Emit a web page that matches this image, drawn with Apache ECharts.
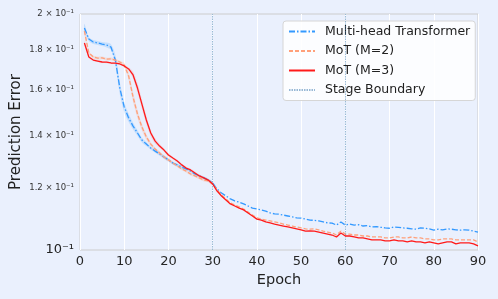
<!DOCTYPE html>
<html>
<head>
<meta charset="utf-8">
<script src="https://cdn.jsdelivr.net/npm/echarts@6/dist/echarts.min.js"></script>
<style>
  html, body { margin: 0; padding: 0; background: #eaf0fd; }
  #chart { width: 498px; height: 299px; }
</style>
</head>
<body>
<div id="chart"></div>
<script>
// epochs 1..90
const epochs = Array.from({ length: 90 }, (_, i) => i + 1)

// Multi-head Transformer
const mhtValues = [
  0.1920, 0.1858, 0.1842, 0.1837, 0.1831, 0.1826, 0.1815, 0.1747, 0.1609, 0.1522,
  0.1474, 0.1439, 0.1410, 0.1381, 0.1365, 0.1349, 0.1337, 0.1326, 0.1314, 0.1303,
  0.1291, 0.1284, 0.1276, 0.1269, 0.1261, 0.1250, 0.1243, 0.1236, 0.1228, 0.1218,
  0.1196, 0.1182, 0.1172, 0.1162, 0.1155, 0.1151, 0.1145, 0.1138, 0.1131, 0.1128,
  0.1125, 0.1121, 0.1115, 0.1112, 0.1111, 0.1108, 0.1105, 0.1102, 0.1099, 0.1098,
  0.1095, 0.1092, 0.1091, 0.1089, 0.1086, 0.1083, 0.1082, 0.1076, 0.1086, 0.1076,
  0.1079, 0.1076, 0.1077, 0.1073, 0.1074, 0.1070, 0.1071, 0.1069, 0.1067, 0.1066,
  0.1070, 0.1069, 0.1067, 0.1066, 0.1064, 0.1063, 0.1067, 0.1066, 0.1064, 0.1060,
  0.1063, 0.1061, 0.1064, 0.1063, 0.1061, 0.1060, 0.1061, 0.1060, 0.1057, 0.1054
]

// MoT (M=2)
const mot2Values = [
  0.1902, 0.1784, 0.1763, 0.1757, 0.1758, 0.1752, 0.1753, 0.1747, 0.1737, 0.1722,
  0.1667, 0.1567, 0.1491, 0.1435, 0.1394, 0.1365, 0.1345, 0.1330, 0.1314, 0.1303,
  0.1291, 0.1280, 0.1269, 0.1261, 0.1250, 0.1243, 0.1236, 0.1228, 0.1225, 0.1214,
  0.1193, 0.1175, 0.1162, 0.1148, 0.1141, 0.1135, 0.1128, 0.1118, 0.1108, 0.1099,
  0.1095, 0.1092, 0.1089, 0.1086, 0.1083, 0.1079, 0.1076, 0.1073, 0.1070, 0.1067,
  0.1064, 0.1063, 0.1064, 0.1061, 0.1057, 0.1054, 0.1051, 0.1045, 0.1057, 0.1048,
  0.1048, 0.1045, 0.1045, 0.1042, 0.1042, 0.1039, 0.1039, 0.1039, 0.1036, 0.1036,
  0.1039, 0.1039, 0.1036, 0.1036, 0.1039, 0.1036, 0.1036, 0.1033, 0.1033, 0.1030,
  0.1030, 0.1033, 0.1033, 0.1033, 0.1030, 0.1030, 0.1030, 0.1030, 0.1030, 0.1024
]

// MoT (M=3)
const mot3Values = [
  0.1837, 0.1763, 0.1747, 0.1742, 0.1737, 0.1736, 0.1732, 0.1731, 0.1727, 0.1717,
  0.1702, 0.1672, 0.1609, 0.1535, 0.1465, 0.1410, 0.1377, 0.1357, 0.1341, 0.1322,
  0.1310, 0.1299, 0.1284, 0.1272, 0.1265, 0.1254, 0.1243, 0.1236, 0.1228, 0.1214,
  0.1189, 0.1172, 0.1158, 0.1145, 0.1138, 0.1131, 0.1125, 0.1115, 0.1105, 0.1095,
  0.1092, 0.1086, 0.1083, 0.1079, 0.1076, 0.1073, 0.1070, 0.1067, 0.1064, 0.1061,
  0.1057, 0.1058, 0.1057, 0.1054, 0.1051, 0.1048, 0.1045, 0.1039, 0.1051, 0.1042,
  0.1042, 0.1039, 0.1036, 0.1036, 0.1033, 0.1030, 0.1030, 0.1030, 0.1027, 0.1027,
  0.1030, 0.1027, 0.1027, 0.1024, 0.1027, 0.1024, 0.1024, 0.1021, 0.1024, 0.1021,
  0.1018, 0.1021, 0.1024, 0.1024, 0.1018, 0.1021, 0.1021, 0.1021, 0.1018, 0.1012
]

// relative half-width of the shaded spread, epochs 1..30
const mhtSpread = [
  0.012, 0.006, 0.006, 0.006, 0.006, 0.007, 0.008, 0.015, 0.018, 0.015,
  0.012, 0.010, 0.008, 0.007, 0.006, 0.005, 0.005, 0.005, 0.005, 0.005,
  0.004, 0.004, 0.004, 0.004, 0.004, 0.004, 0.004, 0.004, 0.004, 0.004
]
const mot2Spread = [
  0.010, 0.004, 0.004, 0.004, 0.004, 0.004, 0.004, 0.004, 0.004, 0.006,
  0.012, 0.014, 0.012, 0.010, 0.008, 0.006, 0.005, 0.005, 0.005, 0.005,
  0.004, 0.004, 0.004, 0.004, 0.004, 0.004, 0.004, 0.004, 0.004, 0.004
]
const mot3Spread = [
  0.006, 0.003, 0.003, 0.003, 0.003, 0.003, 0.003, 0.003, 0.003, 0.003,
  0.005, 0.010, 0.014, 0.014, 0.012, 0.010, 0.008, 0.006, 0.005, 0.005,
  0.004, 0.004, 0.004, 0.004, 0.004, 0.004, 0.004, 0.004, 0.004, 0.004
]

const stageBoundaries = [30, 60]
const xTicks = [0, 10, 20, 30, 40, 50, 60, 70, 80, 90]
const yTicks = [0.1, 0.12, 0.14, 0.16, 0.18, 0.2]

const FONT = 'DejaVu Sans'
const BG = '#eaf0fd'
const BOUNDARY = 'rgba(70,130,180,0.55)'

function pairs(values) {
  return epochs.map((e, i) => [e, values[i]])
}

function yLabel(v) {
  if (Math.abs(v - 0.1) < 1e-9) return '{big|10⁻¹}'
  const m = (v * 10).toFixed(1).replace(/\.0$/, '')
  return '{small|' + m + ' × 10⁻¹}'
}

// shaded band drawn as one polygon through the axis scales
function bandSeries(values, spread, fill) {
  return {
    type: 'custom',
    silent: true,
    z: 1,
    data: [[epochs[0], values[0]]],
    renderItem(params, api) {
      const n = spread.length
      const upper = []
      const lower = []
      for (let i = 0; i < n; i++) {
        upper.push(api.coord([epochs[i], values[i] * (1 + spread[i])]))
        lower.push(api.coord([epochs[i], values[i] * (1 - spread[i])]))
      }
      return {
        type: 'polygon',
        shape: { points: upper.concat(lower.reverse()), smooth: 0.3 },
        style: { fill: fill }
      }
    }
  }
}

const chart = echarts.init(document.getElementById('chart'), null, { renderer: 'canvas' })

const option = {
  backgroundColor: BG,
  animation: false,
  textStyle: { fontFamily: FONT },
  grid: {
    left: 80,
    right: 20,
    top: 14,
    bottom: 49,
    show: true,
    backgroundColor: BG,
    borderColor: '#cccccc',
    borderWidth: 1
  },
  graphic: [
    {
      type: 'text',
      x: 16,
      y: 132,
      rotation: Math.PI / 2,
      style: {
        text: 'Prediction Error',
        font: '15px "DejaVu Sans"',
        fill: '#222',
        align: 'center',
        verticalAlign: 'middle'
      }
    }
  ],
  legend: {
    orient: 'vertical',
    left: 283,
    top: 21,
    padding: [4, 5, 4, 5],
    itemWidth: 26,
    itemHeight: 12,
    itemGap: 6.5,
    backgroundColor: 'rgba(255,255,255,0.85)',
    borderColor: '#d6d6d6',
    borderWidth: 1,
    borderRadius: 3,
    itemStyle: { opacity: 0 },
    textStyle: {
      fontFamily: FONT,
      fontSize: 12.5,
      color: '#222',
      padding: [0, 0, 0, 5]
    },
    data: ['Multi-head Transformer', 'MoT (M=2)', 'MoT (M=3)', 'Stage Boundary']
  },
  xAxis: {
    type: 'value',
    min: 0,
    max: 90,
    interval: 10,
    name: 'Epoch',
    nameLocation: 'middle',
    nameGap: 20,
    nameTextStyle: { fontFamily: FONT, fontSize: 14.5, color: '#222' },
    axisLine: { show: false },
    axisTick: { show: false },
    axisLabel: {
      fontFamily: FONT,
      fontSize: 13,
      color: '#262626',
      margin: 5,
      customValues: xTicks
    },
    splitLine: { show: true, lineStyle: { color: '#ffffff', width: 1 } }
  },
  yAxis: {
    type: 'log',
    logBase: 10,
    min: 0.1,
    max: 0.2,
    axisLine: { show: false },
    axisTick: { show: false },
    splitLine: { show: false },
    axisLabel: {
      customValues: yTicks,
      margin: 6,
      formatter: yLabel,
      rich: {
        big: { fontFamily: FONT, fontSize: 13, color: '#222' },
        small: { fontFamily: FONT, fontSize: 8.5, color: '#333' }
      }
    }
  },
  series: [
    bandSeries(mhtValues, mhtSpread, 'rgba(51,153,255,0.2)'),
    bandSeries(mot2Values, mot2Spread, 'rgba(255,160,122,0.25)'),
    bandSeries(mot3Values, mot3Spread, 'rgba(255,40,40,0.12)'),
    {
      name: 'Multi-head Transformer',
      type: 'line',
      symbol: 'none',
      z: 3,
      lineStyle: { color: '#3399ff', width: 1.3, type: [6, 2, 1.5, 2] },
      itemStyle: { color: '#3399ff' },
      data: pairs(mhtValues)
    },
    {
      name: 'MoT (M=2)',
      type: 'line',
      symbol: 'none',
      z: 4,
      lineStyle: { color: '#ffa07a', width: 1.3, type: [4, 2] },
      itemStyle: { color: '#ffa07a' },
      data: pairs(mot2Values)
    },
    {
      name: 'MoT (M=3)',
      type: 'line',
      symbol: 'none',
      z: 5,
      lineStyle: { color: '#ff1a1a', width: 1.3 },
      itemStyle: { color: '#ff1a1a' },
      data: pairs(mot3Values)
    },
    {
      name: 'Stage Boundary',
      type: 'line',
      symbol: 'none',
      z: 2,
      lineStyle: { color: BOUNDARY, width: 1, type: [1.5, 1] },
      itemStyle: { color: BOUNDARY },
      data: [],
      markLine: {
        silent: true,
        symbol: 'none',
        label: { show: false },
        lineStyle: { color: BOUNDARY, width: 1, type: [1.5, 1] },
        data: stageBoundaries.map(x => ({ xAxis: x }))
      }
    }
  ]
}

chart.setOption(option)
</script>
</body>
</html>
